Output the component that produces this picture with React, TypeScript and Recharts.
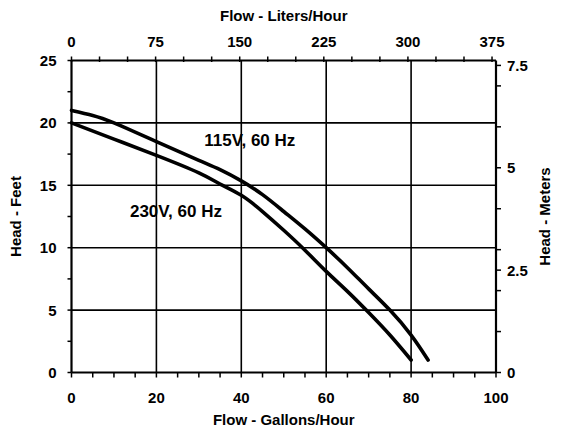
import React from "react";
import { LineChart, Line, XAxis, YAxis, ReferenceLine, ReferenceDot, Label } from "recharts";

const gallons115 = [0, 5, 10, 20, 30, 35, 40, 45, 50, 55, 60, 65, 70, 75, 80, 84];
const head115 = [21, 20.6, 20.0, 18.5, 17.0, 16.25, 15.35, 14.25, 12.9, 11.5, 10.0, 8.4, 6.7, 5.0, 3.0, 1.0];
const gallons230 = [0, 10, 20, 30, 35, 40, 45, 50, 55, 60, 65, 70, 75, 80];
const head230 = [20, 18.7, 17.4, 16.0, 15.1, 14.2, 12.9, 11.4, 9.8, 8.1, 6.5, 4.8, 3.0, 1.0];

const galTicks = [0, 5, 10, 15, 20, 25, 30, 35, 40, 45, 50, 55, 60, 65, 70, 75, 80, 85, 90, 95, 100];
const galMajor = [0, 20, 40, 60, 80, 100];
const literTicks = [0, 25, 50, 75, 100, 125, 150, 175, 200, 225, 250, 275, 300, 325, 350, 375];
const literMajor = [0, 75, 150, 225, 300, 375];
const feetTicks = [0, 2.5, 5, 7.5, 10, 12.5, 15, 17.5, 20, 22.5, 25];
const feetMajor = [0, 5, 10, 15, 20, 25];
const meterTicks = [0, 1, 2, 2.5, 3, 4, 5, 6, 7, 7.5];
const meterMajor = [0, 2.5, 5, 7.5];
const gridGallons = [20, 40, 60, 80];
const gridFeet = [5, 10, 15, 20];

const seriesLabels = ["115V, 60 Hz", "230V, 60 Hz"];
const labelGallons = [42, 24.6];
const labelFeet = [18.6, 12.95];

const LITERS_PER_GALLON = 3.78541;
const METERS_PER_FOOT = 0.3048;

const curve115 = gallons115.map((g, i) => ({ gal: g, ft: head115[i] }));
const curve230 = gallons230.map((g, i) => ({ gal: g, ft: head230[i] }));
// same curve expressed in metric units, bound to the metric axes (invisible)
const curve115Metric = gallons115.map((g, i) => ({
  lit: g * LITERS_PER_GALLON,
  m: head115[i] * METERS_PER_FOOT,
}));

const FONT = "'Liberation Sans', Arial, Helvetica, sans-serif";
const txt = { fontFamily: FONT, fontWeight: 700, fontSize: 15, fill: "#000" } as const;
const title = { fontFamily: FONT, fontWeight: 700, fontSize: 15, fill: "#000" } as const;
const curveTxt = { fontFamily: FONT, fontWeight: 700, fontSize: 17, fill: "#000" } as const;

const BottomTick = (p: any) => {
  const { x, y, payload } = p;
  const v = payload.value;
  return (
    <g>
      <line x1={x} x2={x} y1={y} y2={y + 5} stroke="#000" strokeWidth={1.5} />
      {galMajor.includes(v) && (
        <text x={x} y={y + 30} textAnchor="middle" style={txt}>{v}</text>
      )}
    </g>
  );
};

const TopTick = (p: any) => {
  const { x, y, payload } = p;
  const v = payload.value;
  return (
    <g>
      <line x1={x} x2={x} y1={y + 1.5} y2={y - 4} stroke="#000" strokeWidth={1.5} />
      {literMajor.includes(v) && (
        <text x={x} y={y - 14} textAnchor="middle" style={txt}>{v}</text>
      )}
    </g>
  );
};

const LeftTick = (p: any) => {
  const { x, y, payload } = p;
  const v = payload.value;
  return (
    <g>
      <line x1={x} x2={x - 4} y1={y} y2={y} stroke="#000" strokeWidth={1.5} />
      {feetMajor.includes(v) && (
        <text x={x - 15} y={y + 5.5} textAnchor="end" style={txt}>{v}</text>
      )}
    </g>
  );
};

const RightTick = (p: any) => {
  const { x, y, payload } = p;
  const v = payload.value;
  return (
    <g>
      <line x1={x} x2={x + 5} y1={y} y2={y} stroke="#000" strokeWidth={1.5} />
      {meterMajor.includes(v) && (
        <text x={x + 11} y={y + 5.5} textAnchor="start" style={txt}>{v}</text>
      )}
    </g>
  );
};

const TopTitle = (p: any) => {
  const vb = p.viewBox;
  return (
    <text x={vb.x + vb.width / 2} y={20.5} textAnchor="middle" style={title}>
      Flow - Liters/Hour
    </text>
  );
};
const BottomTitle = (p: any) => {
  const vb = p.viewBox;
  return (
    <text x={vb.x + vb.width / 2} y={424.5} textAnchor="middle" style={title}>
      Flow - Gallons/Hour
    </text>
  );
};
const LeftTitle = (p: any) => {
  const vb = p.viewBox;
  const cy = vb.y + vb.height / 2;
  return (
    <text x={21} y={cy} transform={`rotate(-90, 21, ${cy})`} textAnchor="middle" style={title}>
      Head - Feet
    </text>
  );
};
const RightTitle = (p: any) => {
  const vb = p.viewBox;
  const cy = vb.y + vb.height / 2;
  return (
    <text x={550} y={cy} transform={`rotate(-90, 550, ${cy})`} textAnchor="middle" style={title}>
      Head - Meters
    </text>
  );
};

const CurveLabel = (text: string) => (p: any) => {
  const vb = p.viewBox;
  const cx = vb.x + (vb.width || 0) / 2;
  const cy = vb.y + (vb.height || 0) / 2;
  return (
    <text x={cx} y={cy + 6} textAnchor="middle" style={curveTxt}>
      {text}
    </text>
  );
};

export default function App() {
  return (
    <div style={{ position: "absolute", left: 0, top: 0, background: "#fff" }}>
      <LineChart width={566} height={431} margin={{ top: 0, right: 0, bottom: 0, left: 0 }}>
        <XAxis
          xAxisId="gal"
          dataKey="gal"
          type="number"
          domain={[0, 100]}
          ticks={galTicks}
          interval={0}
          orientation="bottom"
          height={58.5}
          tickSize={0}
          tickMargin={0}
          tickLine={false}
          axisLine={{ stroke: "#000", strokeWidth: 2.2 }}
          tick={<BottomTick />}
        >
          <Label content={<BottomTitle />} />
        </XAxis>
        <XAxis
          xAxisId="liters"
          dataKey="lit"
          type="number"
          domain={[0, 100 * LITERS_PER_GALLON]}
          allowDataOverflow
          ticks={literTicks}
          interval={0}
          orientation="top"
          height={60.5}
          tickSize={0}
          tickMargin={0}
          tickLine={false}
          axisLine={{ stroke: "#000", strokeWidth: 2.2 }}
          tick={<TopTick />}
        >
          <Label content={<TopTitle />} />
        </XAxis>
        <YAxis
          yAxisId="ft"
          type="number"
          domain={[0, 25]}
          ticks={feetTicks}
          interval={0}
          orientation="left"
          width={71.5}
          tickSize={0}
          tickMargin={0}
          tickLine={false}
          axisLine={{ stroke: "#000", strokeWidth: 2.2 }}
          tick={<LeftTick />}
        >
          <Label content={<LeftTitle />} />
        </YAxis>
        <YAxis
          yAxisId="m"
          type="number"
          domain={[0, 25 * METERS_PER_FOOT]}
          allowDataOverflow
          ticks={meterTicks}
          interval={0}
          orientation="right"
          width={70}
          tickSize={0}
          tickMargin={0}
          tickLine={false}
          axisLine={{ stroke: "#000", strokeWidth: 2.2 }}
          tick={<RightTick />}
        >
          <Label content={<RightTitle />} />
        </YAxis>
        {gridGallons.map((g) => (
          <ReferenceLine key={"gx" + g} xAxisId="gal" yAxisId="ft" x={g} stroke="#000" strokeWidth={1.6} />
        ))}
        {gridFeet.map((f) => (
          <ReferenceLine key={"gy" + f} xAxisId="gal" yAxisId="ft" y={f} stroke="#000" strokeWidth={1.6} />
        ))}
        <Line
          xAxisId="liters"
          yAxisId="m"
          data={curve115Metric}
          dataKey="m"
          type="natural"
          stroke="none"
          strokeWidth={0}
          dot={false}
          activeDot={false}
          isAnimationActive={false}
        />
        <Line
          xAxisId="gal"
          yAxisId="ft"
          data={curve115}
          dataKey="ft"
          type="natural"
          stroke="#000"
          strokeWidth={3.6}
          dot={false}
          strokeLinecap="round"
          isAnimationActive={false}
        />
        <Line
          xAxisId="gal"
          yAxisId="ft"
          data={curve230}
          dataKey="ft"
          type="natural"
          stroke="#000"
          strokeWidth={3.6}
          dot={false}
          strokeLinecap="round"
          isAnimationActive={false}
        />
        {seriesLabels.map((s, i) => (
          <ReferenceDot
            key={s}
            xAxisId="gal"
            yAxisId="ft"
            x={labelGallons[i]}
            y={labelFeet[i]}
            r={0}
            fill="none"
            stroke="none"
            label={{ content: CurveLabel(s) } as any}
          />
        ))}
      </LineChart>
    </div>
  );
}
